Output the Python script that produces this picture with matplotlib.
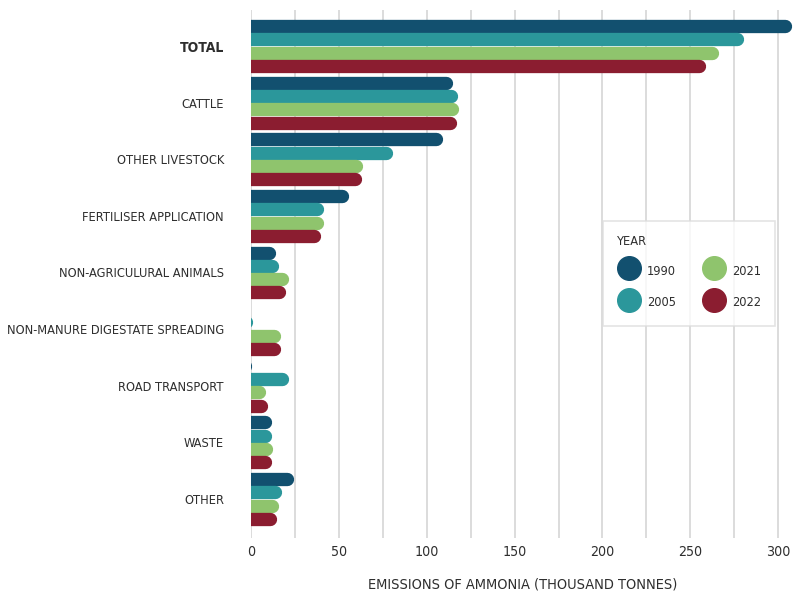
import matplotlib
matplotlib.use("Agg")
import matplotlib.pyplot as plt
from matplotlib import font_manager
from matplotlib.transforms import offset_copy
from matplotlib.lines import Line2D

categories = ["TOTAL", "CATTLE", "OTHER LIVESTOCK", "FERTILISER APPLICATION",
              "NON-AGRICULURAL ANIMALS", "NON-MANURE DIGESTATE SPREADING",
              "ROAD TRANSPORT", "WASTE", "OTHER"]
years = ["1990", "2005", "2021", "2022"]
v1990 = [307.5, 114.5, 109.3, 55.4, 14.0, 0.0, 0.6, 11.6, 24.3]
v2005 = [280.5, 117.8, 80.8, 41.5, 16.0, 0.8, 21.2, 11.8, 17.6]
v2021 = [266.0, 118.0, 63.7, 41.5, 21.4, 17.0, 8.3, 12.3, 15.6]
v2022 = [259.0, 117.0, 62.8, 39.5, 20.0, 17.0, 9.7, 11.8, 14.4]
colors = ["#12506f", "#2b979b", "#8fc46d", "#8b1d30"]

# the original uses a narrow DIN-like face: take the narrowest one installed
def pick_font():
    best, rank = None, 99
    for f in font_manager.fontManager.ttflist:
        tag = (f.name + " " + f.fname).lower().replace(" ", "")
        if f.style != "normal" or f.weight not in (400, "normal", "regular"):
            continue
        if "extracondensed" in tag and "noto" in tag:
            r = 0
        elif "condensed" in tag and "semi" not in tag and "noto" in tag:
            r = 1
        elif "condensed" in tag and "semi" not in tag and "extra" not in tag:
            r = 2
        else:
            continue
        if r < rank:
            best, rank = f, r
    return best, rank

cond, rank = pick_font()
if cond is not None:
    plt.rcParams['font.family'] = [cond.name, 'DejaVu Sans']
    plt.rcParams['font.stretch'] = cond.stretch
scale = {0: 1.0, 1: 0.9, 2: 0.82}.get(rank, 0.75)
txt = "#2e2e2e"

fig = plt.figure(figsize=(7.94, 5.98), dpi=100)
ax = fig.add_axes([251 / 794, 60 / 598, 543 / 794, 528 / 598])

bar_h = 0.235
lw = 13.3 * 72 / 100  # bar thickness in points
trans = offset_copy(ax.transData, fig=fig, x=-lw / 2, y=0, units='points')

series = [v1990, v2005, v2021, v2022]
for k, vals in enumerate(series):
    for i, v in enumerate(vals):
        if v <= 0:
            continue
        y = i + (k - 1.5) * bar_h
        ax.plot([0, v], [y, y], color=colors[k], lw=lw, solid_capstyle='round',
                transform=trans, zorder=3)

ax.set_xlim(0, 309)
ax.set_ylim(8.69, -0.636)
for x in range(0, 301, 25):
    ax.axvline(x, color="#dcdcdc", lw=1.4, zorder=1)

ax.set_xticks(range(0, 301, 50))
ax.set_xticklabels([str(x) for x in range(0, 301, 50)], fontsize=12.4 * scale, color=txt)
ax.set_yticks(range(len(categories)))
ax.set_yticklabels(categories, fontsize=11.2 * scale, color=txt)
ax.get_yticklabels()[0].set_fontweight('bold')
ax.get_yticklabels()[0].set_fontsize(12.2 * scale)
ax.tick_params(axis='both', length=0)
ax.tick_params(axis='y', pad=19.5)
ax.tick_params(axis='x', pad=5)
for s in ax.spines.values():
    s.set_visible(False)
ax.set_xlabel("EMISSIONS OF AMMONIA (THOUSAND TONNES)", fontsize=12.7 * scale,
              color=txt, labelpad=13)

# legend spacing given in pixels, converted to font units
leg_fs = 11.2 * scale
em = leg_fs * 100 / 72
handles = [Line2D([], [], marker='o', ls='none', markersize=17, color=c) for c in colors]
leg = ax.legend(handles, years, ncol=2, title="YEAR", loc='upper left',
                bbox_to_anchor=(0.648, 0.600), borderaxespad=0, frameon=True,
                fontsize=leg_fs, title_fontsize=leg_fs, alignment='left',
                handlelength=24 / em, handleheight=24 / em,
                handletextpad=6 / em, columnspacing=26 / em, labelspacing=13 / em,
                borderpad=14 / em, fancybox=False)
leg.get_frame().set_edgecolor("#dddddd")
leg.get_frame().set_linewidth(1.2)
for t in leg.get_texts():
    t.set_color(txt)
leg.get_title().set_color(txt)

fig.savefig("out.png", dpi=100)
